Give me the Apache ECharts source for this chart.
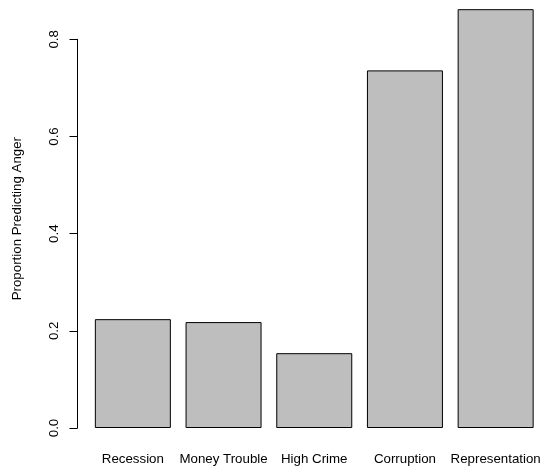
<!DOCTYPE html>
<html>
<head>
<meta charset="utf-8">
<script src="https://cdn.jsdelivr.net/npm/echarts@6/dist/echarts.min.js"></script>
<style>
html,body{margin:0;padding:0;background:#fff;}
#chart{width:545px;height:475px;}
</style>
</head>
<body>
<div id="chart"></div>
<script>
const categories = ["Recession", "Money Trouble", "High Crime", "Corruption", "Representation"];
const proportions = [0.224, 0.218, 0.154, 0.736, 0.862];
const yTicks = [0, 0.2, 0.4, 0.6, 0.8];
const yTitle = "Proportion Predicting Anger";

const chart = echarts.init(document.getElementById('chart'), null, {renderer: 'canvas'});
const font = '"Liberation Sans", Arial, Helvetica, sans-serif';
const fs = 13.3;
chart.setOption({
  animation: false,
  backgroundColor: '#ffffff',
  grid: {left: 87.5, right: 4, top: 39.3, bottom: 47, containLabel: false},
  xAxis: {
    type: 'category',
    data: categories,
    boundaryGap: true,
    axisLine: {show: false},
    axisTick: {show: false},
    splitLine: {show: false},
    axisLabel: {color: '#000', fontFamily: font, fontSize: fs, margin: 25, interval: 0}
  },
  yAxis: {
    type: 'value',
    min: yTicks[0],
    max: yTicks[yTicks.length - 1],
    interval: 0.2,
    offset: 10,
    name: yTitle,
    nameLocation: 'middle',
    nameRotate: 90,
    nameGap: 54,
    nameTextStyle: {color: '#000', fontFamily: font, fontSize: fs, padding: [0, 0, 0, 30]},
    axisLine: {show: true, lineStyle: {color: '#000', width: 1}},
    axisTick: {show: true, length: 8, lineStyle: {color: '#000', width: 1}},
    splitLine: {show: false},
    axisLabel: {
      color: '#000', fontFamily: font, fontSize: fs, rotate: 90, margin: 17,
      formatter: v => v.toFixed(1)
    }
  },
  series: [{
    type: 'bar',
    data: proportions,
    barWidth: 76,
    clip: false,
    itemStyle: {color: '#bebebe', borderColor: '#000', borderWidth: 1}
  }]
});
</script>
</body>
</html>
